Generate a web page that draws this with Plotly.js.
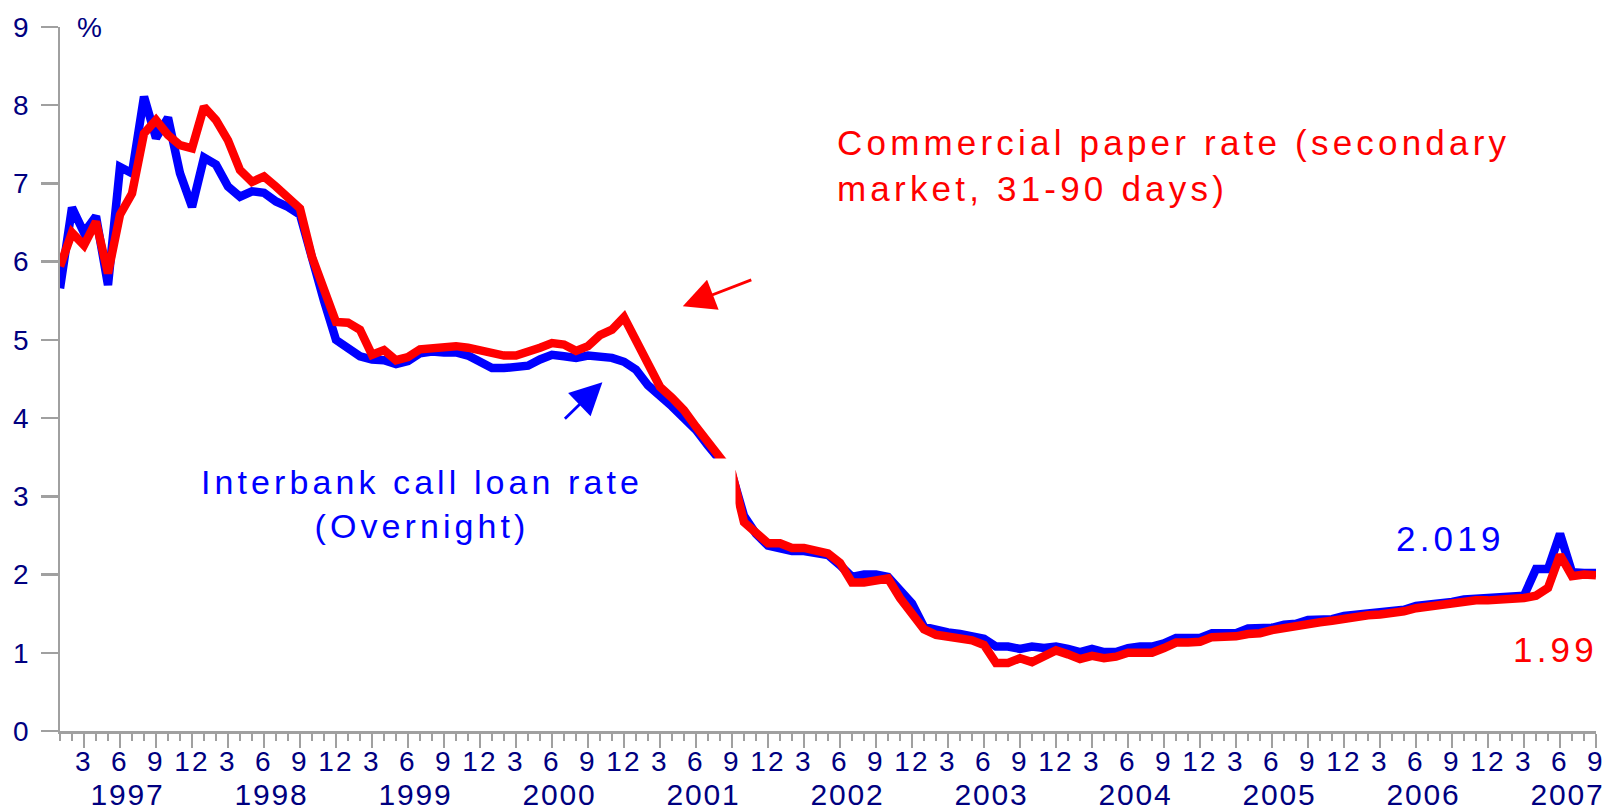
<!DOCTYPE html>
<html>
<head>
<meta charset="utf-8">
<script src="https://cdn.plot.ly/plotly-3.0.1.min.js"></script>
<style>
  html, body { margin: 0; padding: 0; background: #ffffff; }
  #chart { width: 1615px; height: 812px; }
  .xtick text, .ytick text { letter-spacing: 0.08em; }
  .annotation-text { letter-spacing: 0.12em; }
</style>
</head>
<body>
<div id="chart"></div>
<script>
// ---- data (monthly, Jan 1997 - Sep 2007) ----
const years = [1997, 1998, 1999, 2000, 2001, 2002, 2003, 2004, 2005, 2006, 2007];
const tickMonths = [3, 6, 9, 12];

const interbank = [
  5.66, 6.69, 6.37, 6.58, 5.70, 7.21, 7.13, 8.11, 7.58, 7.84, 7.13, 6.70,
  7.33, 7.24, 6.96, 6.83, 6.90, 6.88, 6.77, 6.70, 6.60, 6.02, 5.50, 5.00,
  4.90, 4.79, 4.75, 4.74, 4.69, 4.73, 4.83, 4.85, 4.84, 4.84, 4.80, 4.72,
  4.64, 4.64, 4.66, 4.67, 4.75, 4.81, 4.79, 4.77, 4.80, 4.78, 4.77, 4.72,
  4.62, 4.42, 4.30, 4.15, 4.00, 3.85, 3.65, 3.47, 3.28, 2.75, 2.52, 2.37,
  2.33, 2.30, 2.30, 2.28, 2.25, 2.12, 1.97, 2.00, 2.00, 1.97, 1.80, 1.63,
  1.33, 1.29, 1.26, 1.24, 1.22, 1.18, 1.08, 1.08, 1.05, 1.08, 1.06, 1.08,
  1.05, 1.01, 1.05, 1.01, 1.01, 1.06, 1.08, 1.08, 1.12, 1.19, 1.19, 1.19,
  1.25, 1.25, 1.25, 1.31, 1.32, 1.32, 1.36, 1.37, 1.42, 1.42, 1.43, 1.47,
  1.49, 1.50, 1.52, 1.55, 1.55, 1.60, 1.61, 1.62, 1.65, 1.68, 1.69, 1.69,
  1.70, 1.70, 1.73, 2.07, 2.07, 2.52, 2.03, 2.02, 2.019
];

const commercialPaper = [
  5.94, 6.37, 6.21, 6.51, 5.85, 6.60, 6.87, 7.64, 7.81, 7.62, 7.49, 7.45,
  7.98, 7.81, 7.55, 7.17, 7.02, 7.09, 6.96, 6.83, 6.68, 6.06, 5.68, 5.23,
  5.22, 5.13, 4.81, 4.87, 4.74, 4.78, 4.88, 4.90, 4.92, 4.92, 4.90, 4.87,
  4.82, 4.80, 4.80, 4.84, 4.90, 4.96, 4.94, 4.86, 4.92, 5.06, 5.13, 5.29,
  4.99, 4.68, 4.40, 4.26, 4.10, 3.89, 3.68, 3.50, 3.30, 2.67, 2.52, 2.40,
  2.40, 2.34, 2.34, 2.30, 2.27, 2.15, 1.90, 1.90, 1.93, 1.95, 1.70, 1.48,
  1.30, 1.23, 1.21, 1.19, 1.16, 1.10, 0.87, 0.87, 0.93, 0.88, 0.96, 1.03,
  0.98, 0.92, 0.96, 0.93, 0.95, 1.00, 1.00, 1.00, 1.06, 1.13, 1.13, 1.14,
  1.20, 1.20, 1.21, 1.24, 1.25, 1.29, 1.32, 1.35, 1.38, 1.39, 1.41, 1.44,
  1.46, 1.48, 1.49, 1.50, 1.53, 1.57, 1.59, 1.60, 1.63, 1.66, 1.67, 1.67,
  1.68, 1.68, 1.70, 1.73, 1.83, 2.25, 1.98, 2.00, 1.99
];

const interbankLabel = "Interbank call loan rate<br>(Overnight)";
const cpLabel = "Commercial paper rate (secondary<br>market, 31-90 days)";
const interbankLast = "2.019";
const cpLast = "1.99";
const unitLabel = "%";

// ---- build ----
const idx = interbank.map((_, i) => i);
const lastIdx = idx.length - 1;

const tickvals = [], ticktext = [];
years.forEach((y, k) => {
  tickMonths.forEach(m => {
    const v = k * 12 + m - 1;
    if (v <= lastIdx) { tickvals.push(v); ticktext.push(String(m)); }
  });
});

const navy = '#000080';
const axisGray = '#a0a0a0';
const FONT = 'Liberation Sans, Arial, sans-serif';
const TICKSIZE = 28;

const traces = [
  { x: idx, y: interbank, type: 'scatter', mode: 'lines',
    line: { color: '#0000ff', width: 8.5 }, hoverinfo: 'skip' },
  { x: idx, y: commercialPaper, type: 'scatter', mode: 'lines',
    line: { color: '#ff0000', width: 8.5 }, hoverinfo: 'skip' }
];

const annotations = [
  { text: interbankLabel, x: 30.2, y: 2.90, xref: 'x', yref: 'y', showarrow: false,
    font: { family: FONT, size: 34, color: '#0000ff' }, align: 'center',
    bgcolor: '#ffffff', width: 626, height: 90, borderpad: 0,
    xanchor: 'center', yanchor: 'middle' },
  { text: cpLabel, x: 64.6, y: 7.23, xref: 'x', yref: 'y', showarrow: false,
    font: { family: FONT, size: 35, color: '#ff0000' }, align: 'left',
    xanchor: 'left', yanchor: 'middle' },
  { text: '', x: 51.9, y: 5.43, xref: 'x', yref: 'y', showarrow: true,
    ax: 70, ay: -27, arrowhead: 2, arrowsize: 2.3, arrowwidth: 2.8,
    arrowcolor: '#ff0000', standoff: 0 },
  { text: '', x: 45.2, y: 4.46, xref: 'x', yref: 'y', showarrow: true,
    ax: -39, ay: 38, arrowhead: 2, arrowsize: 2.3, arrowwidth: 2.8,
    arrowcolor: '#0000ff', standoff: 0 },
  { text: interbankLast, x: 115.9, y: 2.46, xref: 'x', yref: 'y', showarrow: false,
    font: { family: FONT, size: 35, color: '#0000ff' }, xanchor: 'center', yanchor: 'middle' },
  { text: cpLast, x: 124.6, y: 1.04, xref: 'x', yref: 'y', showarrow: false,
    font: { family: FONT, size: 35, color: '#ff0000' }, xanchor: 'center', yanchor: 'middle' },
  { text: unitLabel, x: 2.6, y: 9.0, xref: 'x', yref: 'y', showarrow: false,
    font: { family: FONT, size: TICKSIZE, color: navy }, xanchor: 'center', yanchor: 'middle' }
];
const firstYearAnn = annotations.length;
years.forEach((y, k) => {
  annotations.push({ text: String(y), x: k * 12 + 5.6, y: -0.0897, xref: 'x', yref: 'paper',
    showarrow: false, font: { family: FONT, size: 30, color: navy }, borderpad: 0,
    xanchor: 'center', yanchor: 'middle' });
});

// letter spacing for year labels
const st = document.createElement('style');
let css = '';
for (let i = firstYearAnn; i < annotations.length; i++) {
  css += '.annotation[data-index="' + i + '"] .annotation-text { letter-spacing: 0.06em; }\n';
}
st.textContent = css;
document.head.appendChild(st);

const layout = {
  width: 1615, height: 812,
  margin: { l: 60, r: 19, t: 27, b: 81, pad: 0 },
  paper_bgcolor: '#ffffff', plot_bgcolor: '#ffffff',
  showlegend: false,
  xaxis: {
    range: [0, lastIdx], tickmode: 'array', tickvals: tickvals, ticktext: ticktext,
    ticks: 'outside', ticklen: 14, tickwidth: 2.5, tickcolor: axisGray,
    showline: true, linecolor: axisGray, linewidth: 2.5,
    showgrid: false, zeroline: false, ticklabelstandoff: -10,
    tickfont: { family: FONT, size: TICKSIZE, color: navy },
    minor: { ticks: 'outside', ticklen: 7, tickwidth: 2.5, tickcolor: axisGray,
             tickmode: 'linear', tick0: 0, dtick: 1, showgrid: false }
  },
  yaxis: {
    range: [0, 9], tickmode: 'linear', tick0: 0, dtick: 1,
    ticks: 'outside', ticklen: 17, tickwidth: 2.5, tickcolor: axisGray,
    showline: true, linecolor: axisGray, linewidth: 2.5,
    showgrid: false, zeroline: false, ticklabelstandoff: 4,
    tickfont: { family: FONT, size: TICKSIZE, color: navy }
  },
  annotations: annotations
};

Plotly.newPlot('chart', traces, layout, { staticPlot: true, displayModeBar: false });
</script>
</body>
</html>
